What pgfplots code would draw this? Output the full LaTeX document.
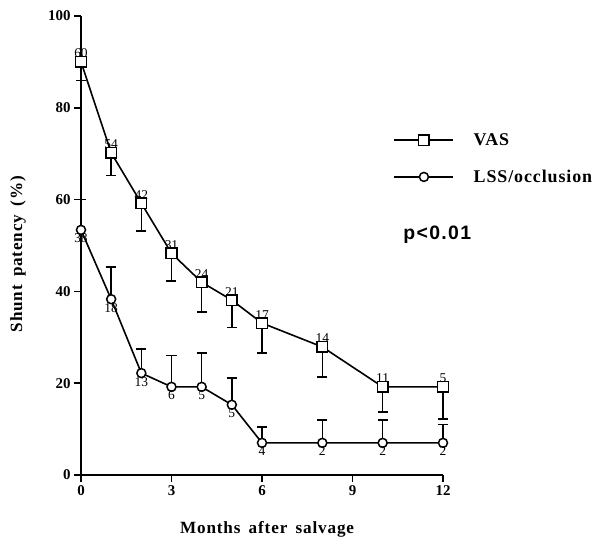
\documentclass[border=0pt]{standalone}
\usepackage{fontspec}
\setmainfont{Liberation Serif}
\newfontfamily\helv[LetterSpace=7]{Liberation Sans}
\newfontfamily\wide[LetterSpace=5, WordSpace=1.6]{Liberation Serif}
\usepackage{pgfplots}
\usepackage{pgfplotstable}
\pgfplotsset{compat=1.18}

% month, patency (%), error bar length, n at risk
\pgfplotstableread{
x  y     e    n
0  90    4    60
1  70.2  5    54
2  59.2  6    42
3  48.3  6    31
4  42    6.5  24
5  38.1  6    21
6  33.1  6.5  17
8  27.9  6.5  14
10 19.2  5.5  11
12 19.2  7    5
}\vas

\pgfplotstableread{
x  y     e    n
0  53.4  6.6  38
1  38.3  7    18
2  22.2  5.3  13
3  19.2  6.8  6
4  19.2  7.4  5
5  15.3  5.8  5
6  7     3.5  4
8  7     5    2
10 7     5    2
12 7     4    2
}\lss

\begin{document}
\begin{tikzpicture}
\begin{axis}[
    at={(0,0)}, anchor=south west,
    scale only axis,
    width=362bp, height=459bp,
    xmin=0, xmax=12, ymin=0, ymax=100,
    axis lines=left,
    axis line style={-, line width=2bp},
    xtick={0,3,6,9,12},
    ytick={0,20,40,60,80,100},
    tick align=outside,
    major tick length=7bp,
    tick style={line width=1.6bp, black},
    /pgf/number format/assume math mode=true,
    tick label style={font=\bfseries\fontsize{15}{17}\selectfont},
    xlabel={Months after salvage},
    ylabel={Shunt patency (\%)},
    label style={font=\wide\bfseries\fontsize{17.2}{20}\selectfont},
    xlabel style={at={(axis description cs:0.514,-0.118)}, anchor=center},
    ylabel style={at={(axis description cs:-0.174,0.481)}, anchor=center},
    clip=false,
    legend style={draw=none, fill=none, inner sep=0pt, at={(axis cs:10.34,68.9)}, anchor=west,
        font=\wide\bfseries\fontsize{18}{20}\selectfont, row sep=23bp,
        nodes={inner sep=0pt},
        /tikz/every odd column/.append style={column sep=20bp}},
    legend cell align=left,
    legend image code/.code={\draw[mark repeat=2,mark phase=2,#1] plot coordinates {(0bp,0bp) (30bp,0bp) (59bp,0bp)};},
    error bars/y explicit,
    error bars/error bar style={line width=1.5bp},
    error bars/error mark options={rotate=90, mark size=5bp, line width=1.5bp},
    nodes near coords={\pgfplotspointmeta},
    point meta=explicit symbolic,
    every node near coord/.append style={font=\fontsize{13.5}{15}\selectfont, black},
]
\addplot+[black, line width=1.6bp, mark=square*, mark size=5.3bp,
    mark options={fill=white, line width=1.5bp, solid},
    error bars/y dir=minus,
    nodes near coords align={above}]
    table[x=x, y=y, y error minus=e, meta=n] {\vas};
\addlegendentry{VAS}
\addplot+[black, line width=1.6bp, mark=*, mark size=4.5bp,
    mark options={fill=white, line width=1.5bp, solid},
    error bars/y dir=plus,
    nodes near coords align={below}]
    table[x=x, y=y, y error plus=e, meta=n] {\lss};
\addlegendentry{LSS/occlusion}
\node[anchor=west, font=\helv\bfseries\fontsize{19.5}{21}\selectfont] at (axis cs:10.57,52.3) {p<0.01};
\end{axis}
\pgfresetboundingbox
\useasboundingbox (-81bp,-81bp) rectangle (514bp,475bp);
\end{tikzpicture}
\end{document}
